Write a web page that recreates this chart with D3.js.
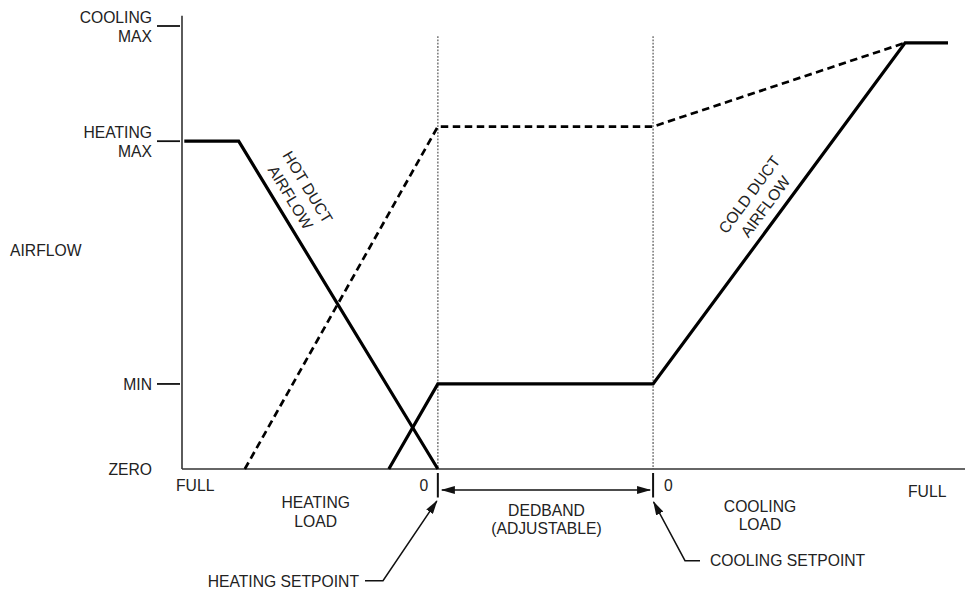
<!DOCTYPE html>
<html>
<head>
<meta charset="utf-8">
<script src="https://cdn.jsdelivr.net/npm/d3@7"></script>
<style>
  body { margin: 0; background: #fff; }
  text { font-family: "Liberation Sans", Arial, sans-serif; font-size: 15.7px; fill: #222; }
  .axis-line { stroke: #333; stroke-width: 1.6; }
  .duct { fill: none; stroke: #000; stroke-width: 3.2; stroke-linejoin: miter; }
  .total { fill: none; stroke: #000; stroke-width: 2.7; stroke-dasharray: 7.5,4.5; }
  .setpoint { stroke: #777; stroke-width: 1.5; stroke-dasharray: 1.8,1.5; }
  .leader { fill: none; stroke: #111; stroke-width: 1.5; }
</style>
</head>
<body>
<svg width="965" height="590"></svg>
<script>
// airflow levels (percent of cooling max) and tick labels
var yTicks = [0, 19.2, 74, 100];
var yTickLabels = [["ZERO"], ["MIN"], ["HEATING", "MAX"], ["COOLING", "MAX"]];

// load position along x (0 = full heating, 100 = full cooling)
var heatingSetpoint = 33.4,
    coolingSetpoint = 61.5;

// series: [load position, airflow]
var hotDuct  = [[0.3, 74], [7.4, 74], [33.4, 0]];
var coldDuct = [[27.0, 0], [33.4, 19.2], [61.5, 19.2], [94.4, 96.2], [100, 96.2]];
var totalAir = [[8.2, 0], [33.4, 77.3], [61.5, 77.3], [94.4, 96.2]];

var svg = d3.select("svg");

var x = d3.scaleLinear().domain([0, 100]).range([182, 948]),
    y = d3.scaleLinear().domain([0, 100]).range([469, 26]);

var line = d3.line()
    .x(function(d) { return x(d[0]); })
    .y(function(d) { return y(d[1]); });

// arrow heads
var defs = svg.append("defs");
defs.append("marker")
    .attr("id", "head")
    .attr("markerUnits", "userSpaceOnUse")
    .attr("markerWidth", 14).attr("markerHeight", 8)
    .attr("refX", 13).attr("refY", 4)
    .attr("orient", "auto-start-reverse")
  .append("path")
    .attr("d", "M0,0L14,4L0,8z")
    .attr("fill", "#111");

// setpoint guides
svg.selectAll(".setpoint")
  .data([heatingSetpoint, coolingSetpoint])
  .enter().append("line")
    .attr("class", "setpoint")
    .attr("x1", function(d) { return x(d); })
    .attr("x2", function(d) { return x(d); })
    .attr("y1", y(97.7))
    .attr("y2", y(0));

// axes
svg.append("line").attr("class", "axis-line")
    .attr("x1", x(0)).attr("x2", x(0))
    .attr("y1", y(102.3)).attr("y2", y(0));
svg.append("line").attr("class", "axis-line")
    .attr("x1", x(0)).attr("x2", 965)
    .attr("y1", y(0)).attr("y2", y(0));

// y ticks
var tick = svg.selectAll(".ytick")
  .data(yTicks)
  .enter().append("g")
    .attr("class", "ytick")
    .attr("transform", function(d) { return "translate(0," + y(d) + ")"; });

tick.filter(function(d) { return d > 0; })
  .append("line")
    .attr("x1", x(0) - 25).attr("x2", x(0) - 2)
    .attr("stroke", "#111").attr("stroke-width", 1.8);

tick.append("text")
    .attr("text-anchor", "end")
    .attr("x", x(0) - 30)
    .each(function(d, i) {
      var lines = yTickLabels[i];
      var t = d3.select(this);
      lines.forEach(function(s, j) {
        var off = lines.length === 1 ? 5.6 : (j === 0 ? -3.4 : 16);
        t.append("tspan").attr("x", x(0) - 30).attr("y", off).text(s);
      });
    });

svg.append("text").attr("x", 10).attr("y", 256.3).text("AIRFLOW");

// series
svg.append("path").attr("class", "total").attr("d", line(totalAir));
svg.append("path").attr("class", "duct").attr("d", line(hotDuct));
svg.append("path").attr("class", "duct").attr("d", line(coldDuct));

// rotated series labels
function rotLabel(cx, cy, angle, lines) {
  var g = svg.append("g")
      .attr("transform", "translate(" + cx + "," + cy + ") rotate(" + angle + ")");
  lines.forEach(function(s, j) {
    g.append("text")
        .attr("text-anchor", "middle")
        .attr("y", (j === 0 ? -10 : 10) + 5.6)
        .text(s);
  });
}
rotLabel(x(15.3), y(62.5), 58.8, ["HOT DUCT", "AIRFLOW"]);
rotLabel(x(75.1), y(60.6), -53.5, ["COLD DUCT", "AIRFLOW"]);

// bottom axis labels
var xh = x(heatingSetpoint), xc = x(coolingSetpoint);

svg.append("text").attr("x", x(0) - 6).attr("y", 491.4).text("FULL");
svg.append("text").attr("x", 908).attr("y", 496.6).text("FULL");
svg.append("text").attr("x", xh - 9.5).attr("y", 490.6).attr("text-anchor", "end").text("0");
svg.append("text").attr("x", xc + 11).attr("y", 490.6).text("0");

function twoLine(cx, y0, lines) {
  lines.forEach(function(s, j) {
    svg.append("text").attr("x", cx).attr("y", y0 + j * 18.5)
        .attr("text-anchor", "middle").text(s);
  });
}
twoLine(315.7, 508.3, ["HEATING", "LOAD"]);
twoLine((xh + xc) / 2 + 1, 515.6, ["DEDBAND", "(ADJUSTABLE)"]);
twoLine(760, 511.6, ["COOLING", "LOAD"]);

// setpoint ticks below axis
svg.selectAll(".sptick")
  .data([xh, xc])
  .enter().append("line")
    .attr("x1", function(d) { return d; })
    .attr("x2", function(d) { return d; })
    .attr("y1", 473).attr("y2", 497.5)
    .attr("stroke", "#111").attr("stroke-width", 2);

// deadband double arrow
svg.append("line").attr("class", "leader")
    .attr("x1", xh + 4).attr("x2", xc - 3)
    .attr("y1", 490).attr("y2", 490)
    .attr("marker-start", "url(#head)")
    .attr("marker-end", "url(#head)");

// setpoint callouts
svg.append("path").attr("class", "leader")
    .attr("d", "M365,580.7H383L" + (xh - 1) + ",501")
    .attr("marker-end", "url(#head)");
svg.append("text").attr("x", 359).attr("y", 587.3).attr("text-anchor", "end").text("HEATING SETPOINT");

svg.append("path").attr("class", "leader")
    .attr("d", "M700,560.7H685L" + (xc + 0.5) + ",502")
    .attr("marker-end", "url(#head)");
svg.append("text").attr("x", 710).attr("y", 566.3).text("COOLING SETPOINT");
</script>
</body>
</html>
